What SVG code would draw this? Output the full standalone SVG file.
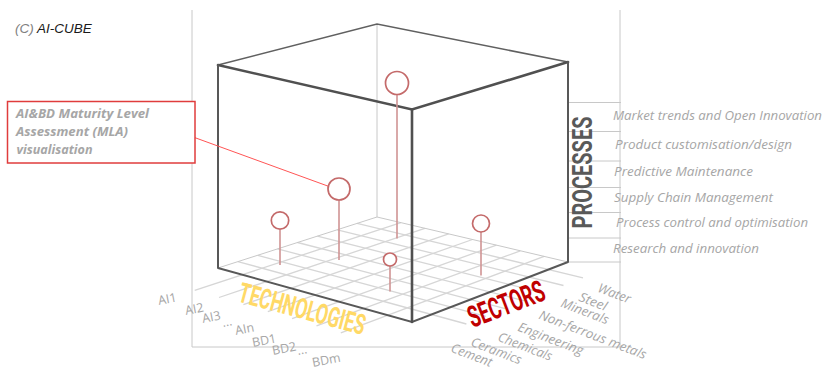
<svg xmlns="http://www.w3.org/2000/svg" width="825" height="370" viewBox="0 0 825 370">
<style>
.frame{stroke:#c8c8c8;stroke-width:1;fill:none}
.grid{stroke:#d6d6d6;stroke-width:1.3;fill:none}
.hidden{stroke:#c8c8c8;stroke-width:1;fill:none}
.edge{stroke:#585858;stroke-width:2;fill:none;stroke-linecap:round}
.edgeT{stroke:#505050;stroke-width:2.6;fill:none;stroke-linecap:round}
.edgeB{stroke:#606060;stroke-width:1.6;fill:none;stroke-linecap:round}
.stem{stroke:#d09494;stroke-width:1.6}
.ball{stroke:#c46a6a;stroke-width:1.7;fill:#fff}
.lab{font-family:"Open Sans","Liberation Sans",sans-serif;font-style:italic;font-size:13px;fill:#a6a6a6}
.tlab{font-family:"Open Sans","Liberation Sans",sans-serif;font-size:12.5px;fill:#a6a6a6}
.axis{font-family:Roboto,"Liberation Sans",sans-serif;font-weight:700}
.call{font-family:"Open Sans","Liberation Sans",sans-serif;font-style:italic;font-weight:700;font-size:13px;fill:#a6a6a6}
</style>

<g id="frame">
<path class="frame" d="M192 10V347H620M620 10V347"/>
<path class="frame" d="M568 102.5H621M568 131.5H621M568 161H621M568 187.5H621M568 212.5H621M568 238H621M568 262H621"/>
</g>

<g id="floor-grid">
<path class="grid" d="M340.8 332.9L544.1 256.4M316.5 325.8L520.3 250.8M292.1 318.7L496.4 245.1M267.8 311.7L472.5 239.5M243.4 304.6L448.6 233.9M219 297.5L424.8 228.3M194.7 290.4L400.9 222.6"/>
<path class="grid" d="M466.4 324L237.9 261.6M485.8 316.3L257.8 255.3M505.2 308.6L277.6 248.9M524.7 300.9L297.5 242.5M544.1 293.2L317.4 236.1M563.5 285.5L337.3 229.8M583 277.8L357.1 223.4"/>
<path class="hidden" d="M218 268L377 217L568 262M377 24V217"/>
</g>

<g id="cube">
<path class="edgeB" d="M218 65L377 24L568 62"/>
<path class="edgeT" d="M218 65L412 109.5L568 62"/>
<path class="edge" d="M218 65V268M568 62V262M218 268L412 322L568 262"/>
<path class="edgeT" d="M412 109.5V322"/>
</g>

<g id="connectors">
<line x1="195" y1="137.7" x2="328.5" y2="186.3" stroke="#ff5555" stroke-width="1"/>
</g>

<g id="point-1"><line class="stem" x1="397" y1="95" x2="397" y2="238.5"/><circle class="ball" cx="397" cy="83" r="11.5"/></g>
<g id="point-mla"><line class="stem" x1="339" y1="200" x2="339" y2="260"/><circle class="ball" cx="339" cy="189" r="11"/></g>
<g id="point-3"><line class="stem" x1="280" y1="229.5" x2="280" y2="265"/><circle class="ball" cx="280" cy="220.5" r="8.7"/></g>
<g id="point-4"><line class="stem" x1="390" y1="266" x2="390" y2="291.5"/><circle class="ball" cx="390" cy="259.5" r="6.5"/></g>
<g id="point-5"><line class="stem" x1="481" y1="232" x2="481" y2="275.5"/><circle class="ball" cx="481" cy="223.5" r="8.5"/></g>

<g id="title">
<text x="15" y="33" font-family="Liberation Sans,Arial,sans-serif" font-style="italic" font-size="13.5"><tspan fill="#7f7f7f">(C)</tspan><tspan fill="#1a1a1a"> AI-CUBE</tspan></text>
</g>

<g id="callout">
<rect x="7.5" y="101.5" width="187.5" height="61.5" fill="#fff" stroke="#e03c3c" stroke-width="1.5"/>
<text class="call" x="16" y="117.5" textLength="133" lengthAdjust="spacingAndGlyphs">AI&amp;BD Maturity Level</text>
<text class="call" x="16" y="135.5" textLength="112" lengthAdjust="spacingAndGlyphs">Assessment (MLA)</text>
<text class="call" x="16.5" y="153.5" textLength="76" lengthAdjust="spacingAndGlyphs">visualisation</text>
</g>

<g id="processes">
<text class="axis" transform="translate(592,228.5) rotate(-90)" font-size="28" fill="#595959" textLength="112" lengthAdjust="spacingAndGlyphs">PROCESSES</text>
<text class="lab" x="613" y="120" textLength="209" lengthAdjust="spacingAndGlyphs">Market trends and Open Innovation</text>
<text class="lab" x="615" y="149" textLength="177" lengthAdjust="spacingAndGlyphs">Product customisation/design</text>
<text class="lab" x="614" y="175.5" textLength="139" lengthAdjust="spacingAndGlyphs">Predictive Maintenance</text>
<text class="lab" x="614" y="202" textLength="159" lengthAdjust="spacingAndGlyphs">Supply Chain Management</text>
<text class="lab" x="616" y="227" textLength="192" lengthAdjust="spacingAndGlyphs">Process control and optimisation</text>
<text class="lab" x="613" y="252.5" textLength="146" lengthAdjust="spacingAndGlyphs">Research and innovation</text>
</g>

<g id="technologies">
<text class="axis" transform="translate(237,301.3) rotate(15)" font-size="28" fill="#ffd966" textLength="130" lengthAdjust="spacingAndGlyphs">TECHNOLOGIES</text>
<text class="tlab" transform="translate(159,305) rotate(-11)">AI1</text>
<text class="tlab" transform="translate(186,315) rotate(-11)">AI2</text>
<text class="tlab" transform="translate(203,323) rotate(-11)">AI3</text>
<text class="tlab" transform="translate(223,327) rotate(-11)">...</text>
<text class="tlab" transform="translate(236,335) rotate(-11)">AIn</text>
<text class="tlab" transform="translate(253,347) rotate(-11)">BD1</text>
<text class="tlab" transform="translate(273,355) rotate(-11)">BD2</text>
<text class="tlab" transform="translate(298,355) rotate(-11)">...</text>
<text class="tlab" transform="translate(313,367) rotate(-11)">BDm</text>
</g>

<g id="sectors">
<text class="axis" transform="translate(472.5,328) rotate(-21)" font-size="30" fill="#c00000" textLength="80" lengthAdjust="spacingAndGlyphs">SECTORS</text>
<text class="lab" transform="translate(597,291.5) rotate(21)" textLength="34" lengthAdjust="spacingAndGlyphs">Water</text>
<text class="lab" transform="translate(578,300.5) rotate(21)" textLength="29" lengthAdjust="spacingAndGlyphs">Steel</text>
<text class="lab" transform="translate(560,306.5) rotate(21)" textLength="50" lengthAdjust="spacingAndGlyphs">Minerals</text>
<text class="lab" transform="translate(538,318.5) rotate(21)" textLength="114" lengthAdjust="spacingAndGlyphs">Non-ferrous metals</text>
<text class="lab" transform="translate(517,330.5) rotate(21)" textLength="69" lengthAdjust="spacingAndGlyphs">Engineering</text>
<text class="lab" transform="translate(497,340.5) rotate(21)" textLength="57" lengthAdjust="spacingAndGlyphs">Chemicals</text>
<text class="lab" transform="translate(470,345.5) rotate(21)" textLength="53" lengthAdjust="spacingAndGlyphs">Ceramics</text>
<text class="lab" transform="translate(450,351.5) rotate(21)" textLength="43" lengthAdjust="spacingAndGlyphs">Cement</text>
</g>
</svg>
